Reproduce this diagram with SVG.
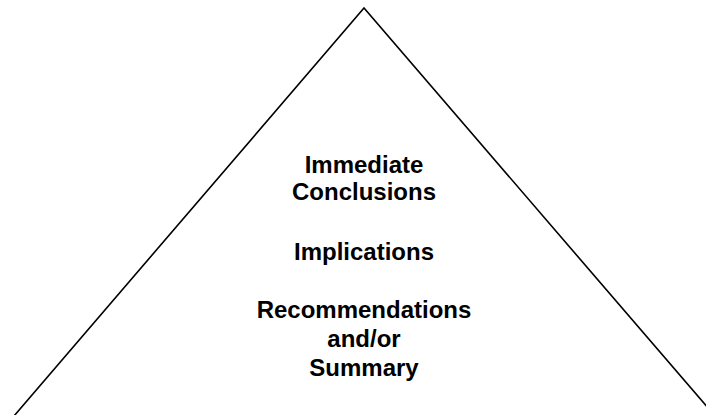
<svg xmlns="http://www.w3.org/2000/svg" width="706" height="415" viewBox="0 0 706 415">
<style>
.t{font-family:"Liberation Sans",Arial,sans-serif;font-weight:bold;font-size:24px;fill:#000;text-anchor:middle}
.l{fill:none;stroke:#000;stroke-width:1.6}
</style>
<rect width="706" height="415" fill="#fff"/>
<g id="connectors">
<polyline class="l" points="14,416 364,8 715,416"/>
</g>
<g id="text">
<text class="t" x="364" y="173">Immediate</text>
<text class="t" x="364" y="200">Conclusions</text>
<text class="t" x="364" y="260">Implications</text>
<text class="t" x="364" y="318">Recommendations</text>
<text class="t" x="364" y="347">and/or</text>
<text class="t" x="364" y="376">Summary</text>
</g>
</svg>
